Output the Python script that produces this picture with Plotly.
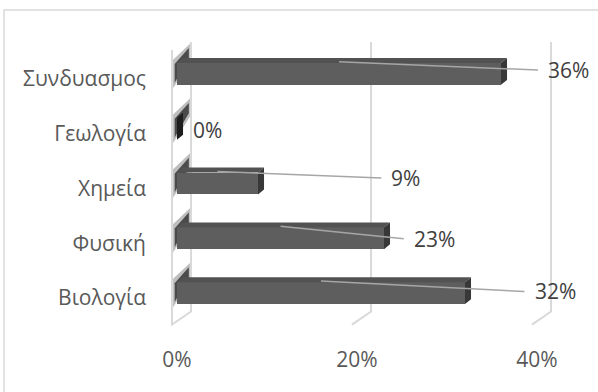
import plotly.graph_objects as go

categories = ["Βιολογία", "Φυσική", "Χημεία", "Γεωλογία", "Συνδυασμος"]
values = [32, 23, 9, 0, 36]
x_ticks = [0, 20, 40]
x_tick_labels = ["0%", "20%", "40%"]

# layout helpers (label anchor positions, in data units)
label_x = [39.5, 26.1, 23.6, 1.5, 41.0]
label_y = [0.03, 0.99, 2.10, 2.98, 4.07]

FONT = "'Open Sans', 'Noto Sans', sans-serif"
BW = 0.4          # bar thickness (category units)
DX, DY = 0.67, 0.09   # 3D depth of bars
WALL_F, WALL_B = -0.56, 1.56  # front / back x offset of walls
Y_BACK_BOT, Y_FRONT_BOT, Y_TOP = -0.337, -0.574, 4.58

pos = list(range(len(categories)))
fig = go.Figure()

shapes = []
# left wall
shapes.append(dict(type="path", xref="x", yref="y", layer="below",
                   path=f"M {WALL_F},4.435 L {WALL_F},{Y_FRONT_BOT} L {WALL_B},{Y_BACK_BOT} L {WALL_B},{Y_TOP}",
                   fillcolor="white", line=dict(color="#d9d9d9", width=2)))
# shadows on wall
for p in pos:
    yc = p
    shapes.append(dict(type="path", xref="x", yref="y", layer="below",
                       path=f"M {WALL_F+0.12},{yc+0.26} L {WALL_B-0.12},{yc+0.55} L {WALL_B-0.12},{yc+0.22} L {WALL_F+0.12},{yc-0.26} Z",
                       fillcolor="rgba(40,40,40,0.3)", line=dict(width=0)))
    shapes.append(dict(type="path", xref="x", yref="y", layer="below",
                       path=f"M {WALL_F+0.3},{yc+0.18} L {WALL_B-0.25},{yc+0.47} L {WALL_B-0.25},{yc+0.28} L {WALL_F+0.3},{yc-0.16} Z",
                       fillcolor="rgba(25,25,25,0.7)", line=dict(width=0)))
# back gridlines with floor slant
for t in x_ticks[1:]:
    shapes.append(dict(type="path", xref="x", yref="y", layer="below",
                       path=f"M {t+WALL_B},{Y_TOP} L {t+WALL_B},{Y_BACK_BOT} L {t+WALL_F},{Y_FRONT_BOT}",
                       line=dict(color="#d9d9d9", width=2)))

# front faces
fig.add_trace(go.Bar(x=values, y=pos, orientation="h", width=BW,
                     marker=dict(color="#5e5e5e", line=dict(width=0)),
                     hoverinfo="skip", showlegend=False))
# top and side faces
for p, v in zip(pos, values):
    y0, y1 = p - BW / 2, p + BW / 2
    if v > 0:
        fig.add_trace(go.Scatter(x=[0, v, v + DX, DX, 0], y=[y1, y1, y1 + DY, y1 + DY, y1],
                                 fill="toself", fillcolor="#525252", mode="lines",
                                 line=dict(width=0), hoverinfo="skip", showlegend=False))
    fig.add_trace(go.Scatter(x=[v, v + DX, v + DX, v, v], y=[y0, y0 + DY, y1 + DY, y1, y0],
                             fill="toself", fillcolor="#383838" if v > 0 else "#1e1e1e", mode="lines",
                             line=dict(width=0), hoverinfo="skip", showlegend=False))

annotations = []
for p, v, lx, ly in zip(pos, values, label_x, label_y):
    if v > 0:
        shapes.append(dict(type="line", xref="x", yref="y", layer="above",
                           x0=v / 2, y0=p + BW / 2 + 0.02, x1=lx - 0.9, y1=ly,
                           line=dict(color="#a6a6a6", width=1.5)))
    annotations.append(dict(x=lx, y=ly, xref="x", yref="y", text=f"{v}%", showarrow=False,
                            xanchor="left", yanchor="middle",
                            font=dict(family=FONT, size=21, color="#404040")))

# outer border
shapes.append(dict(type="rect", xref="paper", yref="paper", x0=-0.356, x1=1.05, y0=-0.3, y1=1.109,
                   line=dict(color="#d9d9d9", width=1.5), fillcolor="rgba(0,0,0,0)", layer="below"))

fig.update_layout(
    width=598, height=392,
    margin=dict(l=160, r=0, t=41, b=66),
    paper_bgcolor="white", plot_bgcolor="white",
    shapes=shapes, annotations=annotations,
    xaxis=dict(range=[-1.889, 46.778], tickvals=x_ticks, ticktext=x_tick_labels,
               showgrid=False, zeroline=False, showline=False, ticks="",
               tickfont=dict(family=FONT, size=21, color="#595959"), ticklabelstandoff=19),
    yaxis=dict(range=[-0.6, 4.6], tickvals=pos, ticktext=categories,
               showgrid=False, zeroline=False, showline=False, ticks="",
               tickfont=dict(family=FONT, size=21, color="#595959"),
               ticklabelstandoff=13, ticklabelshift=5),
    bargap=0,
)

fig.write_html("out.html")
